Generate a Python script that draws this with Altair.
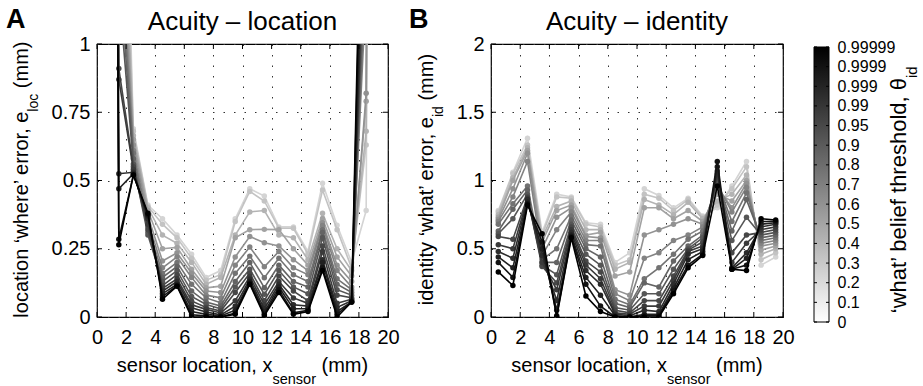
import json
import altair as alt
import pandas as pd

FONT = "Liberation Sans"

# ---------------- data ----------------
THRESH_LABELS = ["0", "0.1", "0.2", "0.3", "0.4", "0.5", "0.6", "0.7", "0.8",
                 "0.9", "0.95", "0.99", "0.999", "0.9999", "0.99999"]

X_TICKS = [0, 2, 4, 6, 8, 10, 12, 14, 16, 18, 20]
LOC_TICKS = [0, 0.25, 0.5, 0.75, 1]
ID_TICKS = [0, 0.5, 1, 1.5, 2]

# Panel A: location error; one list per sensor location, values for thresholds 0 ... 0.99999
# (the end positions are far off the top of the axis)
LOC_X = [0.5, 1.5, 2.5, 3.5, 4.5, 5.5, 6.5, 7.5, 8.5, 9.5, 10.5, 11.5, 12.5, 13.5,
         14.5, 15.5, 16.5, 17.5, 18.5, 19.5]
LOC_ERR = [
    [9.0, 9.2, 9.4, 9.6, 9.8, 10.0, 10.2, 10.4, 10.6, 10.8, 11.0, 11.2, 11.4, 11.6, 11.8],
    [2.6, 2.3, 2.0, 1.8, 1.6, 1.5, 1.4, 1.3, 1.2, 0.91, 0.87, 0.525, 0.47, 0.285, 0.265],
    [0.69, 0.68, 0.665, 0.65, 0.63, 0.61, 0.6, 0.58, 0.56, 0.55, 0.54, 0.53, 0.525, 0.52, 0.52],
    [0.41, 0.405, 0.40, 0.39, 0.37, 0.35, 0.33, 0.31, 0.30, 0.32, 0.34, 0.36, 0.37, 0.375, 0.38],
    [0.36, 0.34, 0.30, 0.25, 0.205, 0.18, 0.16, 0.145, 0.13, 0.115, 0.105, 0.095, 0.085, 0.075, 0.065],
    [0.30, 0.29, 0.27, 0.255, 0.235, 0.22, 0.2, 0.185, 0.17, 0.155, 0.14, 0.13, 0.12, 0.115, 0.113],
    [0.23, 0.215, 0.2, 0.175, 0.16, 0.145, 0.12, 0.095, 0.075, 0.059, 0.045, 0.034, 0.02, 0.008, 0.0],
    [0.145, 0.135, 0.12, 0.107, 0.095, 0.08, 0.07, 0.055, 0.046, 0.035, 0.028, 0.018, 0.01, 0.004, 0.0],
    [0.17, 0.155, 0.145, 0.113, 0.09, 0.07, 0.052, 0.04, 0.03, 0.022, 0.015, 0.008, 0.004, 0.0, 0.0],
    [0.36, 0.35, 0.30, 0.29, 0.22, 0.19, 0.16, 0.13, 0.11, 0.09, 0.06, 0.04, 0.025, 0.015, 0.01],
    [0.47, 0.46, 0.385, 0.32, 0.295, 0.256, 0.223, 0.2, 0.175, 0.16, 0.148, 0.138, 0.13, 0.125, 0.12],
    [0.443, 0.425, 0.39, 0.321, 0.272, 0.184, 0.144, 0.107, 0.083, 0.06, 0.045, 0.03, 0.018, 0.01, 0.005],
    [0.33, 0.325, 0.30, 0.32, 0.26, 0.24, 0.215, 0.19, 0.17, 0.15, 0.13, 0.12, 0.11, 0.1, 0.09],
    [0.33, 0.325, 0.29, 0.25, 0.21, 0.18, 0.155, 0.13, 0.11, 0.095, 0.07, 0.045, 0.03, 0.015, 0.01],
    [0.24, 0.23, 0.21, 0.19, 0.17, 0.155, 0.13, 0.11, 0.085, 0.06, 0.05, 0.04, 0.03, 0.025, 0.02],
    [0.49, 0.465, 0.38, 0.36, 0.345, 0.335, 0.32, 0.31, 0.29, 0.26, 0.24, 0.21, 0.2, 0.18, 0.17],
    [0.336, 0.32, 0.25, 0.22, 0.19, 0.17, 0.14, 0.12, 0.1, 0.08, 0.05, 0.035, 0.02, 0.01, 0.0],
    [0.2, 0.18, 0.17, 0.15, 0.13, 0.11, 0.1, 0.09, 0.08, 0.07, 0.065, 0.06, 0.055, 0.055, 0.055],
    [0.39, 0.63, 0.68, 0.79, 0.82, 1.2, 1.3, 1.4, 1.5, 1.6, 1.7, 1.8, 2.0, 2.2, 2.4],
    [11.8, 11.6, 11.4, 11.2, 11.0, 10.8, 10.6, 10.4, 10.2, 10.0, 9.8, 9.6, 9.4, 9.2, 9.0],
]

# Panel B: identity error
ID_X = [0.5, 1.5, 2.5, 3.5, 4.5, 5.5, 6.5, 7.5, 8.5, 9.5, 10.5, 11.5, 12.5, 13.5,
        14.5, 15.5, 16.5, 17.5, 18.5, 19.5]
ID_ERR = [
    [0.78, 0.77, 0.75, 0.73, 0.715, 0.70, 0.68, 0.63, 0.61, 0.59, 0.53, 0.48, 0.44, 0.40, 0.33],
    [1.06, 1.05, 1.02, 1.0, 0.94, 0.88, 0.83, 0.79, 0.72, 0.57, 0.5, 0.43, 0.36, 0.29, 0.23],
    [1.31, 1.26, 1.24, 1.22, 1.2, 1.14, 0.96, 0.93, 0.9, 0.88, 0.87, 0.86, 0.84, 0.83, 0.82],
    [0.62, 0.6, 0.58, 0.55, 0.5, 0.45, 0.42, 0.4, 0.38, 0.37, 0.4, 0.45, 0.5, 0.55, 0.61],
    [0.9, 0.88, 0.81, 0.78, 0.73, 0.64, 0.5, 0.4, 0.31, 0.25, 0.2, 0.12, 0.05, 0.01, 0.0],
    [0.88, 0.87, 0.85, 0.82, 0.8, 0.77, 0.74, 0.71, 0.68, 0.66, 0.64, 0.62, 0.6, 0.59, 0.58],
    [0.69, 0.68, 0.64, 0.6, 0.59, 0.56, 0.53, 0.5, 0.46, 0.41, 0.38, 0.34, 0.29, 0.24, 0.154],
    [0.68, 0.66, 0.64, 0.62, 0.58, 0.56, 0.52, 0.44, 0.38, 0.33, 0.28, 0.24, 0.16, 0.08, 0.04],
    [0.4, 0.38, 0.35, 0.3, 0.2, 0.17, 0.13, 0.1, 0.07, 0.05, 0.03, 0.02, 0.01, 0.0, 0.0],
    [0.47, 0.42, 0.4, 0.33, 0.16, 0.12, 0.09, 0.07, 0.05, 0.03, 0.02, 0.01, 0.0, 0.0, 0.0],
    [0.94, 0.9, 0.86, 0.8, 0.6, 0.43, 0.28, 0.25, 0.17, 0.12, 0.08, 0.05, 0.02, 0.01, 0.0],
    [0.89, 0.87, 0.82, 0.8, 0.64, 0.47, 0.36, 0.22, 0.17, 0.12, 0.08, 0.04, 0.02, 0.01, 0.0],
    [0.8, 0.78, 0.75, 0.72, 0.68, 0.56, 0.46, 0.41, 0.35, 0.3, 0.27, 0.24, 0.21, 0.19, 0.17],
    [0.87, 0.86, 0.84, 0.78, 0.72, 0.6, 0.57, 0.52, 0.5, 0.49, 0.48, 0.46, 0.42, 0.38, 0.36],
    [0.74, 0.73, 0.72, 0.7, 0.68, 0.66, 0.63, 0.6, 0.58, 0.55, 0.52, 0.5, 0.48, 0.46, 0.45],
    [0.8, 0.82, 0.85, 0.9, 0.95, 0.97, 0.99, 1.0, 1.01, 1.03, 1.05, 1.07, 1.1, 1.14, 0.96],
    [0.96, 0.94, 0.9, 0.85, 0.8, 0.77, 0.7, 0.63, 0.56, 0.47, 0.4, 0.36, 0.35, 0.35, 0.35],
    [1.14, 1.1, 1.04, 1.0, 0.98, 0.95, 0.91, 0.86, 0.73, 0.6, 0.54, 0.47, 0.43, 0.38, 0.34],
    [0.38, 0.42, 0.46, 0.49, 0.52, 0.54, 0.56, 0.58, 0.6, 0.62, 0.64, 0.66, 0.68, 0.7, 0.72],
    [0.44, 0.47, 0.5, 0.52, 0.54, 0.56, 0.58, 0.6, 0.62, 0.64, 0.66, 0.68, 0.69, 0.7, 0.71],
]


def long_table(xs, cols):
    rows = []
    for i in range(len(THRESH_LABELS)):
        for x, col in zip(xs, cols):
            rows.append({"x": x, "v": col[i], "idx": i})
    return pd.DataFrame(rows)


# ---------------- text helpers ----------------
CW = {'a': .556, 'b': .556, 'c': .5, 'd': .556, 'e': .556, 'f': .278, 'h': .556,
      'i': .222, 'l': .222, 'm': .833, 'n': .556, 'o': .556, 'r': .333, 's': .5,
      't': .278, 'w': .722, 'x': .5, 'y': .5, ' ': .278, ',': .278, '(': .333,
      ')': .333, '\u2018': .222, '\u2019': .222, '\u03b8': .556}


def tw(s, size):
    return sum(CW.get(c, 0.556) for c in s) * size


def label(txt, x, y, size, angle=0, align="left", baseline="alphabetic", weight="normal"):
    kw = dict(align=align, baseline=baseline, fontSize=size, font=FONT,
              fontWeight=weight, color="black", clip=False)
    if angle:
        kw["angle"] = angle
    return alt.Chart(pd.DataFrame({"t": [txt]})).mark_text(**kw).encode(
        x=alt.value(x), y=alt.value(y), text="t:N")


def ytitle(main, sub, xb, H, size=20, subsize=14, shift=10):
    tail = "(mm)"
    gap = tw(" ", size)
    total = tw(main, size) + tw(sub, subsize) + gap + tw(tail, size)
    start = H / 2 + total / 2
    anchor = start - tw(main, size)
    return [
        label(main, xb, anchor, size, angle=270, align="right"),
        label(sub, xb + shift, anchor, subsize, angle=270, align="left"),
        label(tail, xb, anchor - tw(sub, subsize) - gap, size, angle=270, align="left"),
    ]


def xtitle(W, H, size=20, subsize=14.5):
    main, sub, tail = "sensor location, x", "sensor", "(mm)"
    gap = tw(" ", size)
    total = tw(main, size) + tw(sub, subsize) + gap + tw(tail, size)
    anchor = W / 2 - total / 2 + tw(main, size)
    yb = H + 55
    return [
        label(main, anchor, yb, size, align="right"),
        label(sub, anchor, yb + 12, subsize, align="left"),
        label(tail, anchor + tw(sub, subsize) + gap, yb, size, align="left"),
    ]


COLOR = alt.Color("idx:Q", scale=alt.Scale(domain=[0, 14], range=["#d4d4d4", "#000000"]),
                  legend=None)


def panel(df, ymax, yticks, W, H, letter, letter_x, title, ymain, ysub, ytx):
    ax_x = alt.Axis(values=X_TICKS, grid=True, gridDash=[1.5, 9], gridColor="#333333",
                    gridWidth=1, domain=False, ticks=False, tickSize=0, labelPadding=10,
                    labelFlush=False, labelOverlap=False, title=None)
    ax_y = alt.Axis(values=yticks, grid=True, gridDash=[1.5, 9], gridColor="#333333",
                    gridWidth=1, domain=False, ticks=False, tickSize=0, labelPadding=7,
                    labelOverlap=False, labelExpr="'' + datum.value", title=None)
    X = alt.X("x:Q", scale=alt.Scale(domain=[0, 20], nice=False, zero=False), axis=ax_x)
    Y = alt.Y("v:Q", scale=alt.Scale(domain=[0, ymax], nice=False), axis=ax_y)
    base = alt.Chart(df)
    layers = []
    for i in range(len(THRESH_LABELS)):
        d = base.transform_filter(alt.datum.idx == i)
        layers.append(d.mark_line(clip=True, strokeWidth=1.6).encode(x=X, y=Y, color=COLOR))
        layers.append(d.mark_circle(clip=True, size=30, opacity=1).encode(x=X, y=Y, color=COLOR))
    # inward tick marks (matlab style), on all four sides
    xt = alt.Chart(pd.DataFrame({"x": X_TICKS}))
    yt = alt.Chart(pd.DataFrame({"v": yticks}))
    tk = dict(color="black", strokeWidth=1)
    layers += [
        xt.mark_rule(**tk).encode(x=X, y=alt.value(H), y2=alt.value(H - 5)),
        xt.mark_rule(**tk).encode(x=X, y=alt.value(0), y2=alt.value(5)),
        yt.mark_rule(**tk).encode(y=Y, x=alt.value(0), x2=alt.value(5)),
        yt.mark_rule(**tk).encode(y=Y, x=alt.value(W - 5), x2=alt.value(W)),
    ]
    layers.append(label(letter, letter_x, -16, 27, weight="bold"))
    layers.append(label(title, W / 2, -14, 26, align="center"))
    layers += ytitle(ymain, ysub, ytx, H)
    layers += xtitle(W, H)
    return layers


W_A, W_B, H = 291, 292, 273

loc_df = long_table(LOC_X, LOC_ERR)
id_df = long_table(ID_X, ID_ERR)

layers_a = panel(loc_df, 1, LOC_TICKS, W_A, H, "A", -91, "Acuity \u2013 location",
                 "location \u2018where\u2019 error, e", "loc", -69)
# invisible anchor fixing the top-left corner of the figure
layers_a.append(alt.Chart(pd.DataFrame({"t": [0]})).mark_rule(strokeOpacity=0, strokeWidth=1).encode(
    x=alt.value(-95.5), y=alt.value(-42.5), x2=alt.value(-94.5), y2=alt.value(-41.5)))
chart_a = alt.layer(*layers_a).properties(width=W_A, height=H)

layers_b = panel(id_df, 2, ID_TICKS, W_B, H, "B", -82, "Acuity \u2013 identity",
                 "identity \u2018what\u2019 error, e", "id", -58)
chart_b = alt.layer(*layers_b).properties(width=W_B, height=H)

# ---------------- colour bar ----------------
CB_W, CB_H = 15, 278
cb_scale = alt.Scale(domain=[0, 14], range=[CB_H, 3], nice=False, zero=False)
cb_axis = alt.Axis(orient="right", values=list(range(15)),
                   labelExpr=json.dumps(THRESH_LABELS) + "[datum.value]",
                   labelFontSize=16, labelPadding=8, domain=False, ticks=False, tickSize=0,
                   grid=False, labelOverlap=False, title=None)
grad = alt.LinearGradient(gradient="linear",
                          stops=[alt.GradientStop(color="white", offset=0),
                                 alt.GradientStop(color="black", offset=1)],
                          x1=0, x2=0, y1=1, y2=0)
bar = alt.Chart(pd.DataFrame({"lo": [0], "hi": [14]})).mark_rect(
    fill=grad, stroke="black", strokeWidth=1).encode(
    y=alt.Y("lo:Q", scale=cb_scale, axis=cb_axis), y2="hi:Q",
    x=alt.value(0), x2=alt.value(CB_W))
cb_df = pd.DataFrame({"lo": list(range(15))})
YCB = alt.Y("lo:Q", scale=cb_scale, axis=cb_axis)
cb_tl = alt.Chart(cb_df).mark_rule(color="black", strokeWidth=1).encode(
    y=YCB, x=alt.value(0), x2=alt.value(3))
cb_tr = alt.Chart(cb_df).mark_rule(color="black", strokeWidth=1).encode(
    y=YCB, x=alt.value(CB_W - 3), x2=alt.value(CB_W))
cb_main = "\u2018what\u2019 belief threshold, \u03b8"
cb_anchor = 270 - tw(cb_main, 22)
cb_layers = [bar, cb_tl, cb_tr,
             label(cb_main, 92, cb_anchor, 22, angle=270, align="right"),
             label("id", 103, cb_anchor, 15, angle=270, align="left")]
chart_cb = alt.layer(*cb_layers).properties(
    width=CB_W, height=CB_H, view=alt.ViewBackground(stroke="transparent"))

right = alt.hconcat(chart_b, chart_cb, spacing=31, bounds="flush")
chart = alt.hconcat(chart_a, right, spacing=103, bounds="flush").properties(
    padding=0).configure_view(stroke="black", strokeWidth=1.2).configure_axis(
    labelFont=FONT, labelFontSize=20, labelColor="black").configure_text(font=FONT)

chart.save("out.html", embed_options={"renderer": "svg", "actions": False})
